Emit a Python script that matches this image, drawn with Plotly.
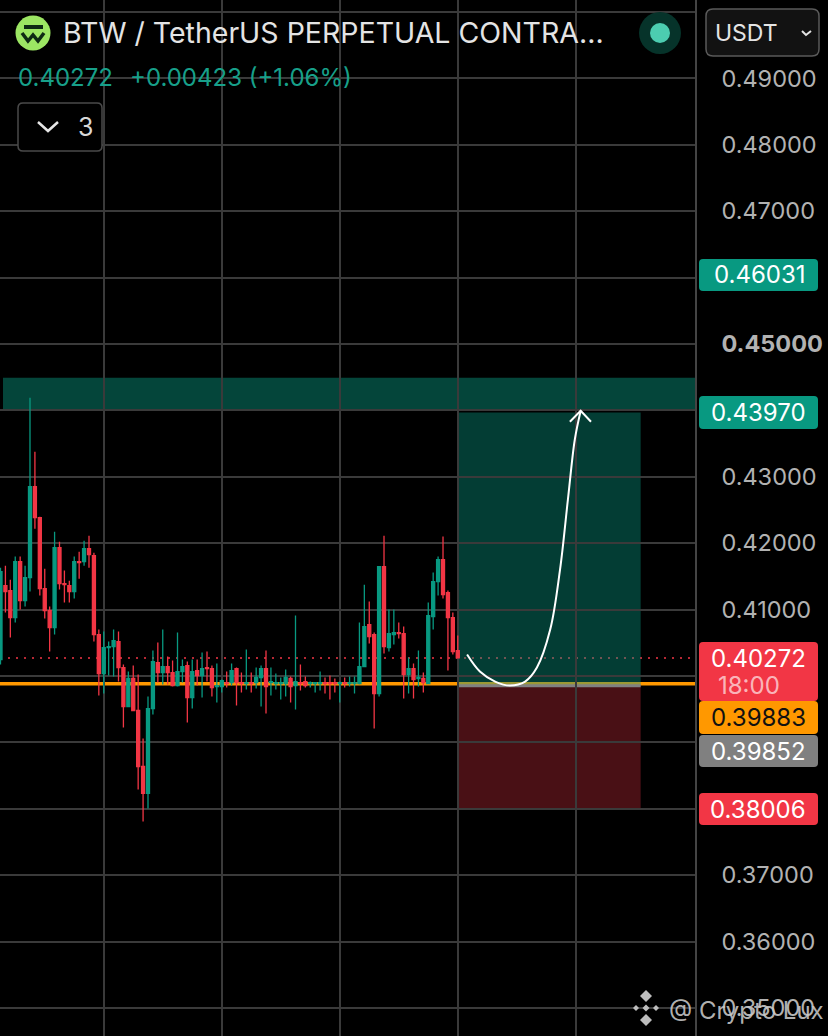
import plotly.graph_objects as go

W, H = 828, 1036
PLOT_W = 695
FONT = "Inter, Roboto, sans-serif"
GREEN = "#089981"
RED = "#F23645"
ORANGE = "#FF9800"
GREY = "#808080"
GRID = "#3A3A3A"

opens = [
    0.40248, 0.41361, 0.41286, 0.40880, 0.41722, 0.41136, 0.41481, 0.42851, 0.42385, 0.41316,
    0.40985, 0.40729, 0.41933, 0.41391, 0.41361, 0.41271, 0.41722, 0.41722, 0.41918, 0.41813,
    0.40624, 0.40037, 0.40428, 0.40443, 0.40519, 0.40127, 0.39540, 0.39962, 0.39480, 0.38637,
    0.38231, 0.39510, 0.40202, 0.40052, 0.40142, 0.40052, 0.39856, 0.40067, 0.40157, 0.39676,
    0.40082, 0.40007, 0.40127, 0.40112, 0.39841, 0.39841, 0.39901, 0.39901, 0.40112, 0.39901,
    0.39886, 0.39901, 0.39901, 0.39977, 0.40112, 0.39901, 0.39886, 0.39886, 0.39886, 0.39962,
    0.39856, 0.39901, 0.39916, 0.39886, 0.39886, 0.39886, 0.39901, 0.39901, 0.39901, 0.39886,
    0.39901, 0.39886, 0.39886, 0.39886, 0.40142, 0.40774, 0.40624, 0.39736, 0.41647, 0.40428,
    0.40624, 0.40654, 0.40639, 0.40022, 0.40112, 0.39962, 0.39962, 0.39886, 0.40895, 0.41421,
    0.41752, 0.41256, 0.40880, 0.40383,
]
highs = [
    0.41632, 0.41662, 0.41451, 0.41798, 0.41798, 0.41662, 0.44191, 0.43378, 0.42400, 0.41617,
    0.41045, 0.42174, 0.42023, 0.41587, 0.41436, 0.41798, 0.41873, 0.42038, 0.42114, 0.41858,
    0.40699, 0.40669, 0.40519, 0.40699, 0.40669, 0.40172, 0.40067, 0.40157, 0.40022, 0.39059,
    0.39691, 0.40383, 0.40503, 0.40699, 0.40293, 0.40233, 0.40654, 0.40248, 0.40217, 0.40248,
    0.40248, 0.40353, 0.40368, 0.40157, 0.40187, 0.39946, 0.40067, 0.40187, 0.40127, 0.40052,
    0.40398, 0.40052, 0.40127, 0.40157, 0.40383, 0.40127, 0.40037, 0.39977, 0.40097, 0.39992,
    0.40910, 0.40172, 0.39992, 0.39916, 0.39901, 0.40067, 0.39977, 0.40007, 0.39962, 0.39916,
    0.39977, 0.39992, 0.39992, 0.40804, 0.41376, 0.41121, 0.40654, 0.41647, 0.42114, 0.41000,
    0.41000, 0.40804, 0.40744, 0.40278, 0.40187, 0.40383, 0.40052, 0.41105, 0.41557, 0.41798,
    0.42099, 0.41286, 0.40955, 0.40609,
]
lows = [
    0.40172, 0.40955, 0.40579, 0.40804, 0.41000, 0.41045, 0.41271, 0.42219, 0.41211, 0.40865,
    0.40368, 0.40624, 0.41301, 0.41105, 0.41105, 0.41166, 0.41466, 0.41662, 0.41632, 0.40519,
    0.39706, 0.39736, 0.40007, 0.39992, 0.39916, 0.39224, 0.39540, 0.39480, 0.38291, 0.37810,
    0.38006, 0.39420, 0.39901, 0.39871, 0.39871, 0.39841, 0.39841, 0.39901, 0.39300, 0.39510,
    0.39856, 0.39676, 0.39916, 0.39691, 0.39601, 0.39751, 0.39826, 0.39856, 0.39556, 0.39751,
    0.39796, 0.39751, 0.39811, 0.39540, 0.39435, 0.39706, 0.39796, 0.39646, 0.39691, 0.39601,
    0.39495, 0.39781, 0.39826, 0.39826, 0.39751, 0.39781, 0.39736, 0.39646, 0.39751, 0.39601,
    0.39826, 0.39841, 0.39736, 0.39871, 0.40142, 0.40488, 0.39209, 0.39691, 0.40338, 0.40368,
    0.40473, 0.40564, 0.39661, 0.39736, 0.39661, 0.39841, 0.39751, 0.39886, 0.40699, 0.41211,
    0.41166, 0.40082, 0.40323, 0.40272,
]
closes = [
    0.41572, 0.41271, 0.40880, 0.41722, 0.41136, 0.41481, 0.42851, 0.42385, 0.41316, 0.40985,
    0.40729, 0.41933, 0.41391, 0.41376, 0.41271, 0.41722, 0.41707, 0.41918, 0.41828, 0.40624,
    0.40037, 0.40428, 0.40443, 0.40534, 0.40127, 0.39540, 0.39962, 0.39480, 0.38637, 0.38231,
    0.39510, 0.40217, 0.40052, 0.40142, 0.40052, 0.39856, 0.40067, 0.40142, 0.39676, 0.40067,
    0.40007, 0.40112, 0.40112, 0.39826, 0.39856, 0.39931, 0.39886, 0.40082, 0.39901, 0.39886,
    0.39901, 0.39886, 0.39977, 0.40112, 0.39841, 0.39916, 0.39901, 0.39901, 0.39977, 0.39841,
    0.39916, 0.39886, 0.39856, 0.39901, 0.39901, 0.39901, 0.39886, 0.39886, 0.39886, 0.39901,
    0.39886, 0.39901, 0.39901, 0.40142, 0.40744, 0.40594, 0.39736, 0.41647, 0.40443, 0.40639,
    0.40654, 0.40639, 0.40022, 0.40112, 0.39946, 0.39977, 0.39901, 0.40910, 0.41421, 0.41752,
    0.41226, 0.40880, 0.40368, 0.40272,
]

# upward path drawn on the chart, then its arrow head
path_x = [94.9, 97.5, 100.6, 103.6, 106.7, 109.1, 111.8, 113.8, 115.4, 116.8, 118.0]
path_y = [0.40323, 0.40067, 0.39916, 0.39856, 0.39916, 0.40127, 0.40699, 0.41602, 0.42655, 0.43558, 0.43995]
head_x = [115.8, 118.0, 120.1]
head_y = [0.43829, 0.43995, 0.43829]

price_ticks = [0.50, 0.49, 0.48, 0.47, 0.46, 0.45, 0.44, 0.43, 0.42, 0.41, 0.40, 0.39, 0.38, 0.37, 0.36, 0.35]
price_labels = ["", "0.49000", "0.48000", "0.47000", "", "<b>0.45000</b>", "", "0.43000", "0.42000",
                "0.41000", "", "", "", "0.37000", "0.36000", "0.35000"]
time_ticks = [21, 45, 69, 93, 117]

last_price = 0.40272
entry_price = 0.39852
avg_price = 0.39883
target_price = 0.43970
stop_price = 0.38006
band_top = 0.44492
band_bottom = 0.43995
pos_left, pos_right = 93, 130.2


def px(x):
    return x / PLOT_W


def py(y):
    return 1 - y / H


def rrect(x0, y0, x1, y1, r=5):
    return (
        f"M{px(x0 + r)},{py(y0)} L{px(x1 - r)},{py(y0)} Q{px(x1)},{py(y0)} {px(x1)},{py(y0 + r)} "
        f"L{px(x1)},{py(y1 - r)} Q{px(x1)},{py(y1)} {px(x1 - r)},{py(y1)} "
        f"L{px(x0 + r)},{py(y1)} Q{px(x0)},{py(y1)} {px(x0)},{py(y1 - r)} "
        f"L{px(x0)},{py(y0 + r)} Q{px(x0)},{py(y0)} {px(x0 + r)},{py(y0)} Z"
    )


def polyline(points, close=False):
    s = " ".join(("M" if i == 0 else "L") + f"{px(x)},{py(y)}" for i, (x, y) in enumerate(points))
    return s + (" Z" if close else "")


fig = go.Figure()
fig.add_trace(go.Candlestick(
    x=list(range(len(opens))),
    open=opens,
    high=highs,
    low=lows,
    close=closes,
    increasing=dict(line=dict(color=GREEN, width=1.3), fillcolor=GREEN),
    decreasing=dict(line=dict(color=RED, width=1.3), fillcolor=RED),
    whiskerwidth=0,
    hoverinfo="skip",
    showlegend=False,
))
fig.add_trace(go.Scatter(x=path_x, y=path_y, mode="lines", line=dict(color="#FFFFFF", width=2, shape="spline"),
                         hoverinfo="skip", showlegend=False))
fig.add_trace(go.Scatter(x=head_x, y=head_y, mode="lines", line=dict(color="#FFFFFF", width=2),
                         hoverinfo="skip", showlegend=False))

shapes = [
    # zones and price lines sit under the candles
    dict(type="rect", xref="paper", yref="y", x0=px(3), x1=1, y0=band_bottom, y1=band_top,
         fillcolor="rgba(8,153,129,0.45)", line=dict(width=0), layer="below"),
    dict(type="rect", xref="x", yref="y", x0=pos_left, x1=pos_right, y0=entry_price, y1=target_price,
         fillcolor="rgba(8,153,129,0.40)", line=dict(width=0), layer="below"),
    dict(type="rect", xref="x", yref="y", x0=pos_left, x1=pos_right, y0=stop_price, y1=entry_price,
         fillcolor="rgba(242,54,69,0.30)", line=dict(width=0), layer="below"),
    dict(type="line", xref="paper", yref="y", x0=0, x1=1, y0=last_price, y1=last_price,
         line=dict(color=RED, width=1.5, dash="2px,6px"), layer="below"),
    dict(type="line", xref="paper", yref="y", x0=0, x1=1, y0=avg_price, y1=avg_price,
         line=dict(color=ORANGE, width=3.5), layer="below"),
    dict(type="line", xref="x", yref="y", x0=pos_left, x1=pos_right, y0=entry_price, y1=entry_price,
         line=dict(color=GREY, width=3), layer="below"),
]


def paper_shape(path, fill="rgba(0,0,0,0)", line=None, width=0):
    shapes.append(dict(type="path", xref="paper", yref="paper", path=path, fillcolor=fill,
                       line=dict(color=line or "rgba(0,0,0,0)", width=width), layer="above"))


def circle(cx, cy, r, fill):
    shapes.append(dict(type="circle", xref="paper", yref="paper", x0=px(cx - r), x1=px(cx + r),
                       y0=py(cy + r), y1=py(cy - r), fillcolor=fill, line=dict(width=0), layer="above"))


annotations = []


def text(s, x, y, size=24, color="#B2B2B2", anchor="left"):
    annotations.append(dict(text=s, xref="paper", yref="paper", x=px(x), y=py(y), xanchor=anchor, yanchor="middle",
                            showarrow=False, font=dict(family=FONT, size=size, color=color)))


# header: coin icon and title
circle(33, 33, 17.5, "#9CE663")
paper_shape(polyline([(24, 25), (43, 25), (43, 29), (24, 29)], True), fill="#0E2A14")
paper_shape(polyline([(22, 33), (28, 41), (33, 35), (38, 41), (44, 33)]), line="#0E2A14", width=3.5)
text("BTW / TetherUS PERPETUAL CONTRA...", 61, 33, size=28.5, color="#E4E4E4")
text("0.40272", 16, 78, size=24, color="#17A08A")
text("+0.00423 (+1.06%)", 128, 78, size=24, color="#17A08A")

# collapsed indicators button
paper_shape(rrect(18, 103, 102, 151), fill="#000000", line="#4A4A4A", width=1.5)
paper_shape(polyline([(38, 122), (48, 131), (58, 122)]), line="#E6E6E6", width=2.5)
text("3", 85, 127, size=25, color="#D8D8D8", anchor="center")

# status dot and currency selector
circle(660, 33, 21, "#06332A")
circle(660, 33, 10, "#4CCDB0")
paper_shape(rrect(706, 9, 819, 56, r=7), fill="#121212", line="#5A5A5A", width=1.5)
text("USDT", 713, 33, size=23, color="#E4E4E4")
paper_shape(polyline([(802, 31), (806, 35), (811, 31)]), line="#E4E4E4", width=2)

# price tags on the scale
tags = [
    ("0.46031", 259, 291, GREEN, "#FFFFFF"),
    ("0.43970", 396, 429, GREEN, "#FFFFFF"),
    ("0.40272", 642, 701, RED, "#FFFFFF"),
    ("0.39883", 701, 734, ORANGE, "#111111"),
    ("0.39852", 735, 767, GREY, "#FFFFFF"),
    ("0.38006", 793, 825, RED, "#FFFFFF"),
]
for label, top, bottom, fill, color in tags:
    paper_shape(rrect(699, top, 818, bottom, r=4), fill=fill)
    mid = 658 if label == "0.40272" else (top + bottom) / 2
    text(label, 808, mid, color=color, anchor="right")
text("18:00", 716, 685, size=24, color="rgba(255,255,255,0.65)")

# watermark
for cx, cy, r in [(646, 996, 6), (636, 1008, 3), (646, 1008, 3.5), (656, 1008, 3), (646, 1020, 6)]:
    paper_shape(polyline([(cx - r, cy), (cx, cy - r), (cx + r, cy), (cx, cy + r)], True), fill="#BDBDBD")
text("@ Crypto Lux", 667, 1010, size=24, color="rgba(200,200,200,0.9)")

fig.update_layout(
    width=W,
    height=H,
    margin=dict(l=0, r=W - PLOT_W, t=0, b=0),
    paper_bgcolor="#000000",
    plot_bgcolor="#000000",
    boxgap=0.12,
    showlegend=False,
    shapes=shapes,
    annotations=annotations,
    font=dict(family=FONT),
    xaxis=dict(
        range=[-0.1, 141.25],
        tickvals=time_ticks,
        showticklabels=False,
        ticks="",
        showgrid=True,
        gridcolor=GRID,
        gridwidth=1.5,
        zeroline=False,
        rangeslider=dict(visible=False),
    ),
    yaxis=dict(
        side="right",
        range=[0.34578, 0.50181],
        tickmode="array",
        tickvals=price_ticks,
        ticktext=price_labels,
        ticks="outside",
        ticklen=20,
        tickcolor="rgba(0,0,0,0)",
        tickfont=dict(family=FONT, size=23.5, color="#B2B2B2"),
        showgrid=True,
        gridcolor=GRID,
        gridwidth=1.5,
        zeroline=False,
        showline=True,
        linecolor="#444444",
        linewidth=1.5,
    ),
)

fig.write_html("out.html", config=dict(displayModeBar=False),
               post_script="document.body.style.margin='0';document.body.style.background='#000';")
